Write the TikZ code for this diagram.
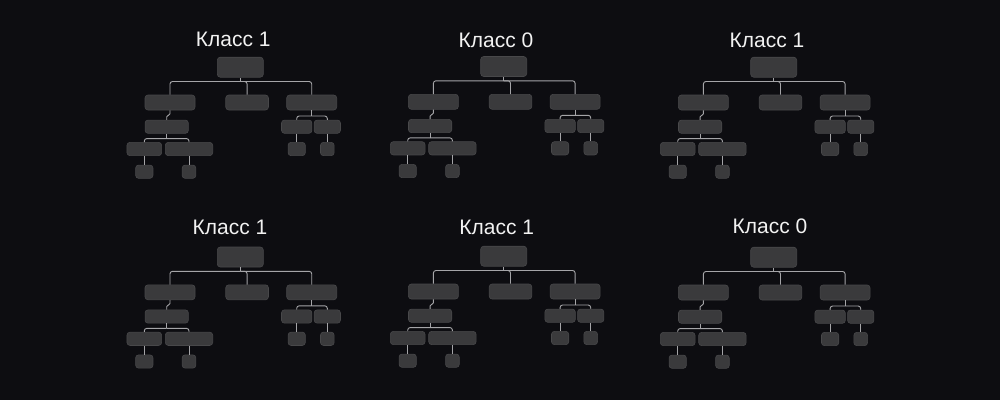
\documentclass[tikz,border=0pt]{standalone}
\usepackage{fontspec}
\setmainfont{Liberation Sans}
\usetikzlibrary{positioning}
\definecolor{bg}{HTML}{0D0D11}
\definecolor{boxfill}{HTML}{3A3A3C}
\definecolor{boxline}{HTML}{48484A}
\definecolor{wire}{HTML}{A5A5A8}
\definecolor{title}{HTML}{F2F2F2}

\begin{document}
\begin{tikzpicture}[x=1pt, y=-1pt,
  cell/.style={rounded corners=3pt, fill=boxfill, draw=boxline, line width=0.6pt, inner sep=0pt, minimum height=13.3pt},
  rootcell/.style={cell, minimum height=20pt},
  midcell/.style={cell, minimum height=15pt},
  wire/.style={draw=wire, line width=0.9pt, rounded corners=2.5pt},
  heading/.style={anchor=base, text=title, font=\fontsize{21}{25}\selectfont, inner sep=0pt}]

\fill[bg] (0,0) rectangle (1000,400);
\useasboundingbox (0,0) rectangle (1000,400);

\foreach \i/\cx/\cy/\lab/\tx/\ty in {1/240.3/67.2/1/233.3/46.7, 2/503.7/66.5/0/496/47.3, 3/773.7/67.2/1/767/47,
                                    4/240.3/257/1/230/234, 5/503.7/256.2/1/496.7/234, 6/773.7/257.2/0/770/233.3}{
  \node[heading] (head\i) at (\tx,\ty) {Класс \lab};
  \begin{scope}[shift={(\cx,\cy)}]
    % root and first level
    \node[rootcell, minimum width=46pt] (root\i) at (0,0) {};
    \node[midcell, minimum width=50pt] (a\i) at (-70.3,35.3) {};
    \node[midcell, minimum width=42.7pt] (b\i) at (6.8,35.3) {};
    \node[midcell, minimum width=50pt] (c\i) at (71.4,35.3) {};
    % left branch
    \node[cell, minimum width=43.3pt] (aa\i) at (-73.6,59.5) {};
    \node[cell, minimum width=34.7pt] (aaa\i) at (-96,81.8) {};
    \node[cell, minimum width=47.4pt] (aab\i) at (-51.3,81.8) {};
    \node[cell, minimum width=17.3pt] (aaaa\i) at (-96,104.5) {};
    \node[cell, minimum width=13.7pt] (aaba\i) at (-51.3,104.5) {};
    % right branch
    \node[cell, minimum width=30.4pt] (ca\i) at (56.4,59.5) {};
    \node[cell, minimum width=26.3pt] (cb\i) at (87,59.5) {};
    \node[cell, minimum width=17.3pt] (caa\i) at (56.4,81.8) {};
    \node[cell, minimum width=13.7pt] (cba\i) at (87,81.8) {};
  \end{scope}

  % connectors
  \draw[wire] (root\i.south) -- ++(0,4) coordinate (bus\i);
  \foreach \k in {a,b,c}
    \draw[wire] (bus\i) -| (\k\i.north);
  \draw[wire, rounded corners=1.5pt] (a\i.south) -- ++(0,5) -| (aa\i.north);
  \draw[wire] (aa\i.south) -- ++(0,4.9) coordinate (lbus\i);
  \draw[wire] (lbus\i) -| (aaa\i.north);
  \draw[wire] (lbus\i) -| (aab\i.north);
  \draw[wire] (aaa\i.south) -- (aaaa\i.north);
  \draw[wire] (aab\i.south) -- (aaba\i.north);
  \draw[wire] (c\i.south) -- ++(0,5.7) coordinate (rbus\i);
  \draw[wire] (rbus\i) -| (ca\i.north);
  \draw[wire] (rbus\i) -| (cb\i.north);
  \draw[wire] (ca\i.south) -- (caa\i.north);
  \draw[wire] (cb\i.south) -- (cba\i.north);
}
\end{tikzpicture}
\end{document}
